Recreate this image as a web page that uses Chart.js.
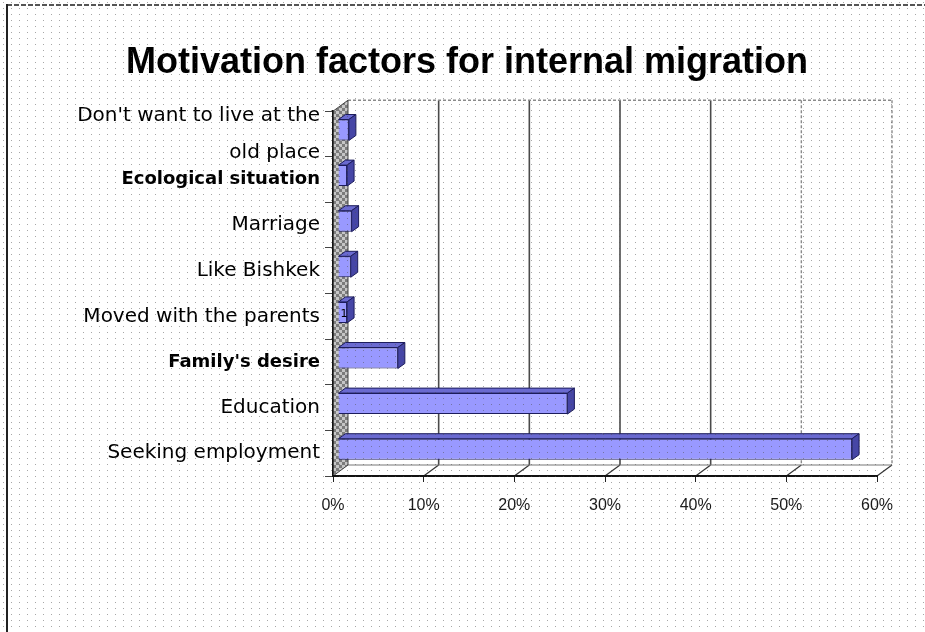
<!DOCTYPE html>
<html>
<head>
<meta charset="utf-8">
<title>Motivation factors for internal migration</title>
<script src="https://cdn.jsdelivr.net/npm/chart.js@4.4.1/dist/chart.umd.min.js"></script>
<style>
  html, body { margin: 0; padding: 0; background: #fff; }
  #wrap { position: relative; width: 925px; height: 632px; }
</style>
</head>
<body>
<div id="wrap"><canvas id="chart"></canvas></div>
<script>
// Reasons given for moving, share of respondents (%)
const categories = [
  ["Don't want to live at the", "old place"],
  "Ecological situation",
  "Marriage",
  "Like Bishkek",
  "Moved with the parents",
  "Family's desire",
  "Education",
  "Seeking employment"
];
const shares = [1.2, 1.0, 1.5, 1.4, 1.0, 6.6, 25.3, 56.7];
const tickValues = [0, 10, 20, 30, 40, 50, 60];
const boldLabels = ["Ecological situation", "Family's desire"];
const valueLabelIndex = [4];

// 3-D look: wall depth, bar position inside the depth, bar thickness
const WALL = { dx: 15, dy: -11 };
const BAR_FRONT = { dx: 5, dy: -4 };
const BAR_DEPTH = { dx: 7, dy: -5 };

function makeTile(w, h, paint) {
  const c = document.createElement('canvas');
  c.width = w; c.height = h;
  paint(c.getContext('2d'));
  return c;
}

const checkerTile = makeTile(6, 6, g => {
  g.fillStyle = '#c6c6c6'; g.fillRect(0, 0, 6, 6);
  g.fillStyle = '#7c7c7c'; g.fillRect(0, 0, 3, 3); g.fillRect(3, 3, 3, 3);
});

const dotTile = makeTile(8, 6, g => {
  g.fillStyle = 'rgba(80,80,80,0.5)';
  g.fillRect(3, 2, 1, 1);
});

function poly(ctx, pts, fill, stroke) {
  ctx.beginPath();
  ctx.moveTo(pts[0][0], pts[0][1]);
  for (let i = 1; i < pts.length; i++) ctx.lineTo(pts[i][0], pts[i][1]);
  ctx.closePath();
  if (fill) { ctx.fillStyle = fill; ctx.fill(); }
  if (stroke) { ctx.strokeStyle = stroke; ctx.lineWidth = 1; ctx.stroke(); }
}

function line(ctx, x1, y1, x2, y2, color, width, dash) {
  ctx.beginPath();
  ctx.setLineDash(dash || []);
  ctx.strokeStyle = color;
  ctx.lineWidth = width;
  ctx.moveTo(x1, y1);
  ctx.lineTo(x2, y2);
  ctx.stroke();
  ctx.setLineDash([]);
}

const scene3d = {
  id: 'scene3d',
  beforeDraw(chart) {
    const { ctx, chartArea: a, scales: { x } } = chart;
    const dx = WALL.dx, dy = WALL.dy;
    ctx.save();

    // outer frame of the sheet
    line(ctx, 7, 5, 925, 5, '#555', 2, [5, 2]);
    line(ctx, 7, 4, 7, 632, '#222', 2);

    // back wall
    ctx.fillStyle = '#fff';
    ctx.fillRect(a.left + dx, a.top + dy, a.right - a.left, a.bottom - a.top);

    // floor
    poly(ctx, [[a.left, a.bottom], [a.right, a.bottom], [a.right + dx, a.bottom + dy], [a.left + dx, a.bottom + dy]], '#fff');

    const maxV = tickValues[tickValues.length - 1];
    tickValues.forEach(v => {
      const px = x.getPixelForValue(v);
      if (v > 0 && v < 50) {
        line(ctx, px + dx, a.top + dy, px + dx, a.bottom + dy, '#4a4a4a', 1.6);
      } else if (v >= 50) {
        line(ctx, px + dx, a.top + dy, px + dx, a.bottom + dy, '#8a8a8a', 1.4, [3, 2]);
      }
      if (v > 0) line(ctx, px, a.bottom, px + dx, a.bottom + dy, '#333', 1.2);
    });

    // back wall top edge and floor back edge
    line(ctx, a.left + dx, a.top + dy, x.getPixelForValue(maxV) + dx, a.top + dy, '#8a8a8a', 1.4, [3, 2]);
    line(ctx, a.left + dx, a.bottom + dy, a.right + dx, a.bottom + dy, '#777', 1);

    // left wall
    const wall = [[a.left, a.top], [a.left + dx, a.top + dy], [a.left + dx, a.bottom + dy], [a.left, a.bottom]];
    poly(ctx, wall, ctx.createPattern(checkerTile, 'repeat'), '#444');

    ctx.restore();
  },
  beforeDatasetsDraw(chart) {
    chart.ctx.save();
    chart.ctx.translate(BAR_FRONT.dx, BAR_FRONT.dy);
  },
  afterDatasetsDraw(chart) {
    const ctx = chart.ctx;
    const meta = chart.getDatasetMeta(0);
    const bx = BAR_DEPTH.dx, by = BAR_DEPTH.dy;
    meta.data.forEach((bar, i) => {
      const p = bar.getProps(['x', 'y', 'base', 'height'], true);
      const top = p.y - p.height / 2, bot = p.y + p.height / 2;
      poly(ctx, [[p.base, top], [p.x, top], [p.x + bx, top + by], [p.base + bx, top + by]], '#6a6ad0', '#1c1c5c');
      poly(ctx, [[p.x, top], [p.x + bx, top + by], [p.x + bx, bot + by], [p.x, bot]], '#4646a6', '#1c1c5c');
      if (valueLabelIndex.includes(i)) {
        ctx.fillStyle = '#000';
        ctx.font = "11px 'DejaVu Sans', sans-serif";
        ctx.textAlign = 'left';
        ctx.textBaseline = 'middle';
        ctx.fillText(String(Math.round(shares[i])), p.base + 2, p.y + 2);
      }
    });
    ctx.restore();
  },
  afterDraw(chart) {
    const ctx = chart.ctx;
    ctx.save();
    ctx.fillStyle = ctx.createPattern(dotTile, 'repeat');
    ctx.fillRect(0, 0, chart.width, chart.height);
    ctx.restore();
  }
};

new Chart(document.getElementById('chart'), {
  type: 'bar',
  data: {
    labels: categories,
    datasets: [{
      data: shares,
      backgroundColor: '#9999ff',
      borderColor: '#1c1c5c',
      borderWidth: 1,
      categoryPercentage: 1,
      barPercentage: 0.46
    }]
  },
  options: {
    indexAxis: 'y',
    responsive: true,
    maintainAspectRatio: false,
    animation: false,
    layout: { padding: { left: 57, right: 48, top: 0, bottom: 0 } },
    plugins: {
      legend: { display: false },
      tooltip: { enabled: false },
      title: {
        display: true,
        text: 'Motivation factors for internal migration',
        color: '#000',
        font: { family: "'Liberation Sans', Arial, sans-serif", size: 36, weight: 'bold', lineHeight: 1.2 },
        padding: { top: 41, bottom: 27 }
      }
    },
    scales: {
      x: {
        type: 'linear',
        min: tickValues[0],
        max: tickValues[tickValues.length - 1],
        afterBuildTicks: s => { s.ticks = tickValues.map(v => ({ value: v })); },
        afterFit: s => { s.height = 156; },
        grid: { drawOnChartArea: false, drawTicks: true, tickLength: 6, color: '#222', lineWidth: 1 },
        border: { display: true, color: '#111', width: 2 },
        ticks: {
          padding: 14,
          color: '#1a1a1a',
          font: { family: "'Liberation Sans Narrow', 'Liberation Sans', sans-serif", size: 16 },
          callback: v => v + '%'
        }
      },
      y: {
        type: 'category',
        afterFit: s => { s.width = 333 - 57; },
        grid: { drawOnChartArea: false, tickLength: 8, color: '#444', lineWidth: 1, offset: true },
        border: { display: true, color: '#111', width: 1.5 },
        ticks: {
          autoSkip: false,
          padding: 5,
          color: '#000',
          font: c => {
            const lbl = categories[c.index];
            const bold = boldLabels.includes(lbl);
            return {
              family: "'DejaVu Sans', sans-serif",
              size: bold ? 18 : 20,
              weight: bold ? 'bold' : 'normal',
              lineHeight: '37px'
            };
          }
        }
      }
    }
  },
  plugins: [scene3d]
});
</script>
</body>
</html>
